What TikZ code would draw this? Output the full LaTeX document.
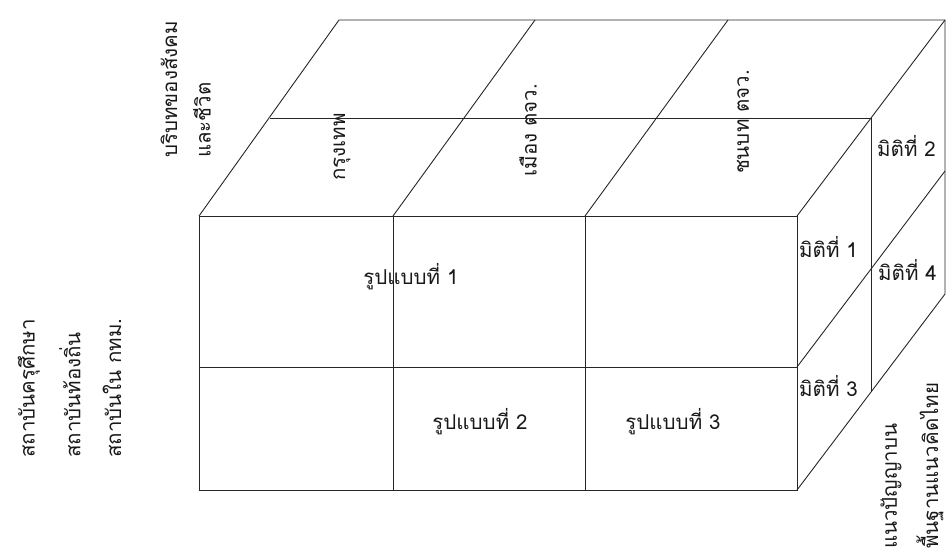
\documentclass[tikz,border=0pt]{standalone}
\usepackage{fontspec}
\newfontfamily\thaifont[Script=Thai]{Loma}

\begin{document}
\begin{tikzpicture}[x=1pt, y=-1pt,
    edge/.style={draw=black!85, line width=0.9pt},
    lbl/.style={font=\thaifont\fontsize{20.5}{24}\selectfont, text=black!90, inner sep=0pt},
    side/.style={lbl, rotate=90, anchor=west},
    dim/.style={lbl, anchor=west}
]
\useasboundingbox (0,0) rectangle (949,550);
% front face
\coordinate (A0) at (199,216);
\coordinate (A1) at (393,216);
\coordinate (A2) at (585,216);
\coordinate (A3) at (797,216);
\coordinate (M0) at (199,367);
\coordinate (M3) at (797,367);
\coordinate (B0) at (199,490);
\coordinate (B1) at (393,490);
\coordinate (B2) at (585,490);
\coordinate (B3) at (797,490);
% top and right faces
\coordinate (T0) at (270,118);
\coordinate (T3) at (871,118);
\coordinate (R2) at (871,392);
\coordinate (K0) at (339,20);
\coordinate (K1) at (535,20);
\coordinate (K2) at (728,20);
\coordinate (K3) at (945,20);
\coordinate (S1) at (945,171);
\coordinate (S2) at (945,294);

\draw[edge] (A0) rectangle (B3);
\draw[edge] (M0) -- (M3);
\draw[edge] (A1) -- (B1);
\draw[edge] (A2) -- (B2);
\draw[edge] (T0) -- (T3) -- (R2);
\draw[edge] (K0) -- (K3) -- (S2) -- (B3);
\draw[edge] (A0) -- (K0);
\draw[edge] (A1) -- (K1);
\draw[edge] (A2) -- (K2);
\draw[edge] (A3) -- (K3);
\draw[edge] (M3) -- (S1);

\node[lbl] (p1) at (411,277) {รูปแบบที่ 1};
\node[lbl] (p2) at (480,422) {รูปแบบที่ 2};
\node[lbl] (p3) at (673,422) {รูปแบบที่ 3};

\node[dim] (d1) at (799,247) {มิติที่ 1};
\node[dim] (d2) at (877,146) {มิติที่ 2};
\node[dim] (d3) at (799,386) {มิติที่ 3};
\node[dim] (d4) at (878,270) {มิติที่ 4};

\node[lbl, rotate=90] (bkk) at (342,147) {กรุงเทพ};
\node[lbl, rotate=90] (urb) at (528,130) {เมือง ตจว.};
\node[lbl, rotate=90] (rur) at (743,122) {ชนบท ตจว.};

\node[side] (ctx1) at (169,158) {บริบทของสังคม};
\node[side] (ctx2) at (202,158) {และชีวิต};
\node[side] (ins1) at (29,458) {สถาบันครุศึกษา};
\node[side] (ins2) at (70,458) {สถาบันท้องถิ่น};
\node[side] (ins3) at (112,458) {สถาบันใน กทม.};
\node[side] (base1) at (891,549) {แนวปัญญาบน};
\node[side] (base2) at (930,549) {พื้นฐานแนวคิดไทย};
\end{tikzpicture}
\end{document}
